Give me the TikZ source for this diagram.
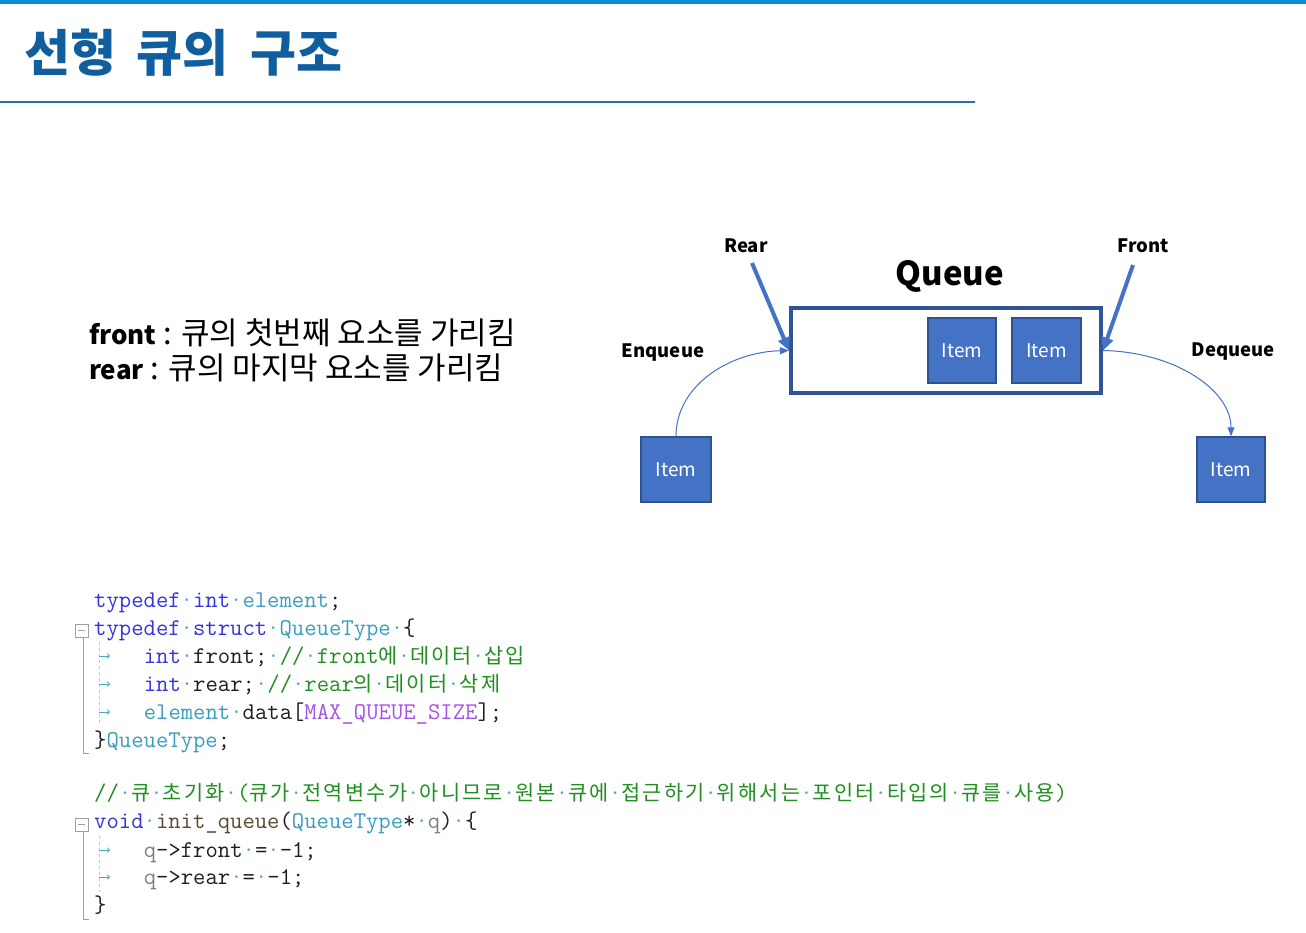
\documentclass[tikz,border=0pt]{standalone}
\usepackage{fontspec}
\usetikzlibrary{arrows.meta}
\newfontfamily\krfont{Noto Sans CJK KR}
\newfontfamily\krcodefont[LetterSpace=11]{Noto Sans CJK KR}
\definecolor{topbar}{HTML}{0B8BD6}
\definecolor{titleblue}{HTML}{105E9E}
\definecolor{ruleblue}{HTML}{2C6DB5}
\definecolor{itemfill}{HTML}{4472C4}
\definecolor{itemdraw}{HTML}{2F528F}
\definecolor{qdraw}{HTML}{2F5597}
\definecolor{kwc}{HTML}{3333E0}
\definecolor{tyc}{HTML}{3A9DBF}
\definecolor{cmc}{HTML}{1F8F1F}
\definecolor{mcc}{HTML}{A352E8}
\definecolor{wsc}{HTML}{4FA8C8}
\definecolor{darkc}{HTML}{1E1E1E}
\definecolor{prc}{HTML}{808080}
\definecolor{fnc}{HTML}{5C4A30}
\definecolor{foldc}{HTML}{A0A0A0}
\definecolor{guidec}{HTML}{C8C8C8}
\newcommand\KW[1]{\textcolor{kwc}{#1}}
\newcommand\TY[1]{\textcolor{tyc}{#1}}
\newcommand\CM[1]{\textcolor{cmc}{#1}}
\newcommand\MC[1]{\textcolor{mcc}{#1}}
\newcommand\PR[1]{\textcolor{prc}{#1}}
\newcommand\FN[1]{\textcolor{fnc}{#1}}
\newcommand\wsd{\textcolor{wsc}{·}}
\newcommand\KR[1]{{\krcodefont\fontsize{20.8pt}{28pt}\selectfont #1}}
\newcommand\LAT[1]{{\fontsize{26pt}{34pt}\selectfont\bfseries #1}}
\tikzset{
  titlestyle/.style={anchor=base west, inner sep=0pt, text=titleblue, font=\krfont\bfseries\fontsize{50pt}{58pt}\selectfont},
  desc/.style={anchor=base west, inner sep=0pt, text=black, font=\krfont\fontsize{31pt}{36pt}\selectfont},
  lbl/.style={inner sep=0pt, text=black, font=\krfont\bfseries\fontsize{18.5pt}{22pt}\selectfont},
  biglbl/.style={inner sep=0pt, text=black, font=\krfont\bfseries\fontsize{33pt}{38pt}\selectfont},
  item/.style={draw=itemdraw, fill=itemfill, line width=1.5pt, text=white, inner sep=0pt,
    font=\krfont\fontsize{19pt}{22pt}\selectfont},
  qbox/.style={draw=qdraw, fill=white, line width=4pt, minimum width=310pt, minimum height=85pt, inner sep=0pt},
  thickarrow/.style={draw=itemfill, line width=4pt, -{Triangle[length=13pt,width=12pt]}},
  thinarrow/.style={draw=itemfill, line width=1pt, -{Triangle[length=9pt,width=7pt]}},
  code/.style={anchor=base west, inner sep=0pt, text=darkc, font=\ttfamily\fontsize{24pt}{28pt}\selectfont},
  tabarrow/.style={draw=wsc, line width=0.9pt, -{To[length=3pt,width=5pt]}},
  guide/.style={draw=guidec, line width=0.8pt, dash pattern=on 3pt off 3pt},
  fold/.style={draw=foldc, line width=1pt},
}
\begin{document}
\begin{tikzpicture}[x=1pt,y=-1pt]
\useasboundingbox (0,0) rectangle (1306,933);
\fill[white] (0,0) rectangle (1306,933);
% header
\fill[topbar] (0,0) rectangle (1306,4);
\draw[ruleblue, line width=2pt] (0,102) -- (975,102);
\node[titlestyle] (t1) at (24,72) {선형};
\node[titlestyle] (t2) at (136,72) {큐의};
\node[titlestyle] (t3) at (250,72) {구조};
% description
\node[desc] (d1) at (89,344) {\LAT{front} : 큐의 첫번째 요소를 가리킴};
\node[desc] (d2) at (89,379) {\LAT{rear} : 큐의 마지막 요소를 가리킴};
% queue diagram
\node[qbox] (queue) at (946,350.5) {};
\node[item, minimum width=68pt, minimum height=65pt] (q1) at (962,350.5) {Item};
\node[item, minimum width=69pt, minimum height=65pt] (q2) at (1046.5,350.5) {Item};
\node[item, minimum width=70pt, minimum height=65pt] (in) at (676,469.5) {Item};
\node[item, minimum width=68pt, minimum height=65pt] (out) at (1231,469.5) {Item};
\node[biglbl] (qlabel) at (950,276) {Queue};
\node[lbl] (rear) at (746,246) {Rear};
\node[lbl] (front) at (1143,246) {Front};
\node[lbl] (enq) at (663,353) {Enqueue};
\node[lbl] (deq) at (1233,352) {Dequeue};
\coordinate (rs) at (752,263);
\coordinate (fs) at (1133,265);
\draw[thickarrow] (rs) -- (queue.west);
\draw[thickarrow] (fs) -- (queue.east);
\draw[thinarrow] (in.north) .. controls (676,385) and (730,352) .. (queue.west);
\draw[thinarrow] (queue.east) .. controls (1175,352) and (1231,390) .. (out.north);
% code block 1
\draw[fold] (75,624) rectangle (88,637);
\draw[fold] (78,630.5) -- (85,630.5);
\draw[fold] (83,637) -- (83,753) -- (89,753);
\draw[guide] (99,642) -- (99,726);
\foreach \yy in {656,684,712} {\draw[tabarrow] (99,\yy) -- (110,\yy);}
\node[code] (c1) at (94,607) {\KW{typedef}\wsd\KW{int}\wsd\TY{element};};
\node[code] (c2) at (94,635) {\KW{typedef}\wsd\KW{struct}\wsd\TY{QueueType}\wsd\{};
\node[code] (c3) at (143.6,663) {\KW{int}\wsd front;\wsd\CM{//\wsd front\KR{에}\wsd\KR{데이터}\wsd\KR{삽입}}};
\node[code] (c4) at (143.6,691) {\KW{int}\wsd rear;\wsd\CM{//\wsd rear\KR{의}\wsd\KR{데이터}\wsd\KR{삭제}}};
\node[code] (c5) at (143.6,719) {\TY{element}\wsd data[\MC{MAX\_QUEUE\_SIZE}];};
\node[code] (c6) at (94,747) {\}\TY{QueueType};};
% code block 2
\node[code] (c7) at (94,800) {\CM{//\wsd\KR{큐}\wsd\KR{초기화}\wsd(\KR{큐가}\wsd\KR{전역변수가}\wsd\KR{아니므로}\wsd\KR{원본}\wsd\KR{큐에}\wsd\KR{접근하기}\wsd\KR{위해서는}\wsd\KR{포인터}\wsd\KR{타입의}\wsd\KR{큐를}\wsd\KR{사용})}};
\draw[fold] (75,818) rectangle (88,831);
\draw[fold] (78,824.5) -- (85,824.5);
\draw[fold] (83,831) -- (83,919) -- (89,919);
\draw[guide] (99,836) -- (99,892);
\foreach \yy in {850,877} {\draw[tabarrow] (99,\yy) -- (110,\yy);}
\node[code] (c8) at (94,828) {\KW{void}\wsd\FN{init\_queue}(\TY{QueueType}*\wsd\PR{q})\wsd\{};
\node[code] (c9) at (143.6,857) {\PR{q}->front\wsd=\wsd-1;};
\node[code] (c10) at (143.6,884) {\PR{q}->rear\wsd=\wsd-1;};
\node[code] (c11) at (94,912) {\}};
\end{tikzpicture}
\end{document}
